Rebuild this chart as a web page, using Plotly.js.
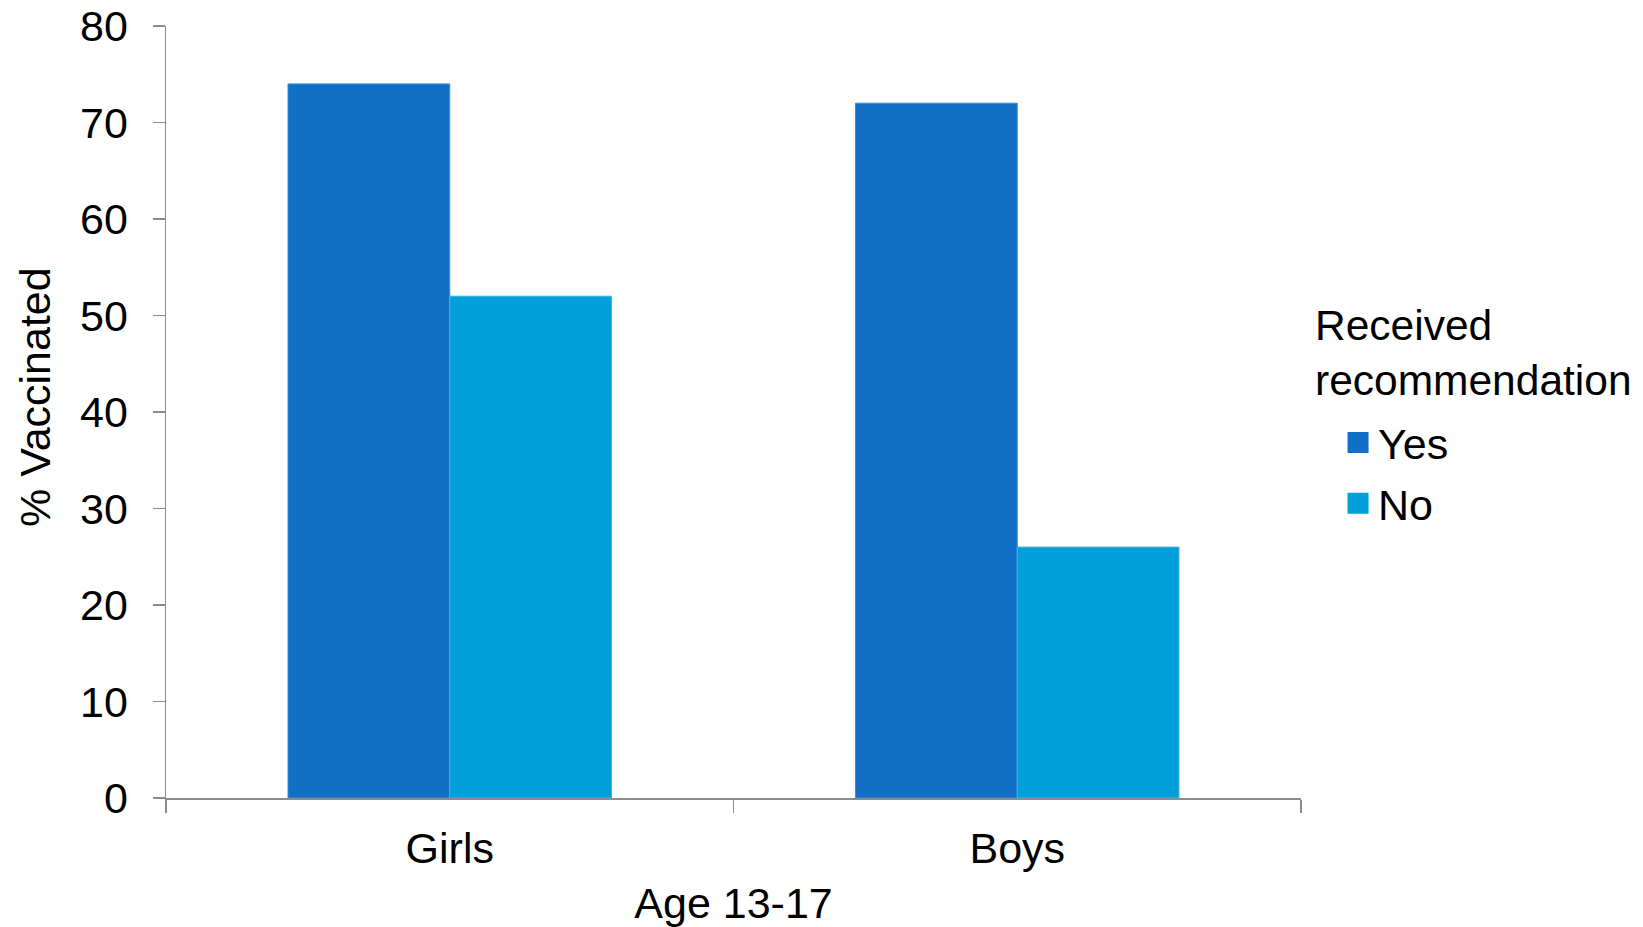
<!DOCTYPE html>
<html>
<head>
<meta charset="utf-8">
<script src="https://cdn.plot.ly/plotly-3.0.1.min.js"></script>
<style>html,body{margin:0;padding:0;background:#fff;}#chart{width:1643px;height:927px;}</style>
</head>
<body>
<div id="chart"></div>
<script>
const categories = ["Girls", "Boys"];
const yesValues = [74, 72];
const noValues = [52, 26];
const seriesNames = ["Yes", "No"];
const seriesColors = ["#1170C5", "#009FD9"];
const yTickVals = [0, 10, 20, 30, 40, 50, 60, 70, 80];
const legendTitle = "Received<br>recommendation";
const xTitle = "Age 13-17";
const yTitle = "% Vaccinated";

const FONT = "Liberation Sans, Arial, sans-serif";
const FS = 43;
const data = [
  {type: "bar", name: seriesNames[0], x: categories, y: yesValues, showlegend: false,
   marker: {color: seriesColors[0], line: {color: "#3A8DD6", width: 1}}},
  {type: "bar", name: seriesNames[1], x: categories, y: noValues, showlegend: false,
   marker: {color: seriesColors[1], line: {color: "#3DB6E6", width: 1}}},
  // legend entries (square swatches)
  {type: "scatter", mode: "markers", name: seriesNames[0], x: [null], y: [null], legendgroup: "a",
   marker: {symbol: "square", size: 16, color: seriesColors[0], line: {color: seriesColors[0], width: 5}}},
  {type: "scatter", mode: "markers", name: seriesNames[1], x: [null], y: [null], legendgroup: "b",
   marker: {symbol: "square", size: 16, color: seriesColors[1], line: {color: seriesColors[1], width: 5}}}
];
const layout = {
  width: 1643, height: 927,
  margin: {l: 166, r: 342, t: 26, b: 129, pad: 0},
  paper_bgcolor: "#ffffff", plot_bgcolor: "#ffffff",
  font: {family: FONT, size: FS, color: "#000000"},
  barmode: "group", bargap: 0.43, bargroupgap: 0,
  showlegend: true,
  legend: {
    x: 1.0115, xanchor: "left", y: 0.5052, yanchor: "top",
    font: {family: FONT, size: FS, color: "#000"},
    traceorder: "grouped", tracegroupgap: 2,
    indentation: 24,
    itemsizing: "trace",
    bgcolor: "rgba(0,0,0,0)"
  },
  annotations: [
    {text: legendTitle, xref: "paper", yref: "paper", x: 1.0105, y: 0.5764,
     xanchor: "left", yanchor: "middle", align: "left", showarrow: false,
     font: {family: FONT, size: 42.5, color: "#000"}},
    {text: yTitle, xref: "paper", yref: "paper", x: -0.1154, y: 0.5194, textangle: -90,
     xanchor: "center", yanchor: "middle", showarrow: false,
     font: {family: FONT, size: FS, color: "#000"}}
  ],
  xaxis: {
    type: "category",
    showline: true, linecolor: "#8C8C8C", linewidth: 1.5,
    ticks: "outside", tickson: "boundaries", ticklen: 13, tickcolor: "#8C8C8C", tickwidth: 1.5,
    ticklabelstandoff: 12,
    tickfont: {family: FONT, size: FS, color: "#000"},
    showgrid: false, zeroline: false,
    title: {text: xTitle, font: {family: FONT, size: FS, color: "#000"}, standoff: 18},
    automargin: false
  },
  yaxis: {
    range: [0, 80], tickvals: yTickVals,
    showline: true, linecolor: "#8C8C8C", linewidth: 1.5,
    ticks: "outside", ticklen: 12, tickcolor: "#8C8C8C", tickwidth: 1.5,
    ticklabelstandoff: 16,
    tickfont: {family: FONT, size: FS, color: "#000"},
    showgrid: false, zeroline: false,
    automargin: false
  }
};
Plotly.newPlot("chart", data, layout, {displayModeBar: false, staticPlot: true});
</script>
</body>
</html>
